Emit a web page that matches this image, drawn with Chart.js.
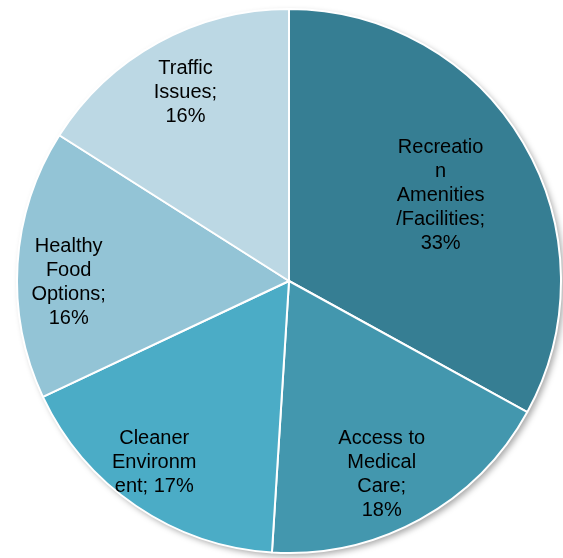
<!DOCTYPE html>
<html>
<head>
<meta charset="utf-8">
<script src="https://cdn.jsdelivr.net/npm/chart.js@4"></script>
<style>
  html, body { margin: 0; padding: 0; background: #fff; }
  #pie { display: block; }
</style>
</head>
<body>
<canvas id="pie" width="563" height="558"></canvas>
<script>
// categories and their shares, clockwise from 12 o'clock
const categories = ['Recreation Amenities /Facilities', 'Access to Medical Care', 'Cleaner Environment', 'Healthy Food Options', 'Traffic Issues'];
const shares = [33, 18, 17, 16, 16];
const sliceColors = ['#367e93', '#4397ae', '#4bacc6', '#93c4d6', '#bcd8e4'];

// where each label sits inside its slice: fraction of radius, fraction of the slice angle
const labelRadius = [0.64, 0.79, 0.83, 0.81, 0.79];
const labelAngle = [0.51, 0.55, 0.54, 0.43, 0.5];

function wrapText(ctx, text, maxWidth) {
    let lines = [];
    let line = '';
    text.split(' ').forEach(word => {
        let test = line ? line + ' ' + word : word;
        if (ctx.measureText(test).width <= maxWidth) {
            line = test;
            return;
        }
        if (line) lines.push(line);
        line = '';
        // word too long on its own, break it by characters
        for (const ch of word) {
            if (ctx.measureText(line + ch).width > maxWidth && line) {
                lines.push(line);
                line = ch;
            } else {
                line += ch;
            }
        }
    });
    if (line) lines.push(line);
    return lines;
}

// soft shadow under the whole pie
const pieShadow = {
    id: 'pieShadow',
    beforeDatasetsDraw(chart) {
        const arc = chart.getDatasetMeta(0).data[0];
        if (!arc) return;
        const ctx = chart.ctx;
        ctx.save();
        ctx.shadowColor = 'rgba(0,0,0,0.35)';
        ctx.shadowBlur = 6;
        ctx.shadowOffsetX = 3;
        ctx.shadowOffsetY = 3;
        ctx.fillStyle = '#ffffff';
        ctx.beginPath();
        ctx.arc(arc.x, arc.y, arc.outerRadius, 0, Math.PI * 2);
        ctx.fill();
        ctx.restore();
    }
};

const sliceLabels = {
    id: 'sliceLabels',
    afterDatasetsDraw(chart) {
        const ctx = chart.ctx;
        const meta = chart.getDatasetMeta(0);
        ctx.save();
        ctx.font = '20px "Liberation Sans", Arial, sans-serif';
        ctx.fillStyle = '#000';
        ctx.textAlign = 'center';
        ctx.textBaseline = 'middle';
        meta.data.forEach((arc, i) => {
            const a = arc.startAngle + (arc.endAngle - arc.startAngle) * labelAngle[i];
            const r = arc.outerRadius * labelRadius[i];
            const x = arc.x + Math.cos(a) * r;
            const y = arc.y + Math.sin(a) * r;
            const lines = wrapText(ctx, `${categories[i]}; ${shares[i]}%`, 92);
            const lh = 24;
            const top = y - (lines.length - 1) * lh / 2;
            lines.forEach((ln, k) => ctx.fillText(ln, x, top + k * lh));
        });
        ctx.restore();
    }
};

new Chart(document.getElementById('pie').getContext('2d'), {
    type: 'pie',
    data: {
        labels: categories,
        datasets: [{
            data: shares,
            backgroundColor: sliceColors,
            borderColor: '#ffffff',
            borderWidth: 2
        }]
    },
    options: {
        responsive: false,
        animation: false,
        layout: {
            padding: { left: 16, right: 1, top: 8, bottom: 4 }
        },
        plugins: {
            legend: { display: false },
            tooltip: { enabled: false }
        }
    },
    plugins: [pieShadow, sliceLabels]
});
</script>
</body>
</html>
